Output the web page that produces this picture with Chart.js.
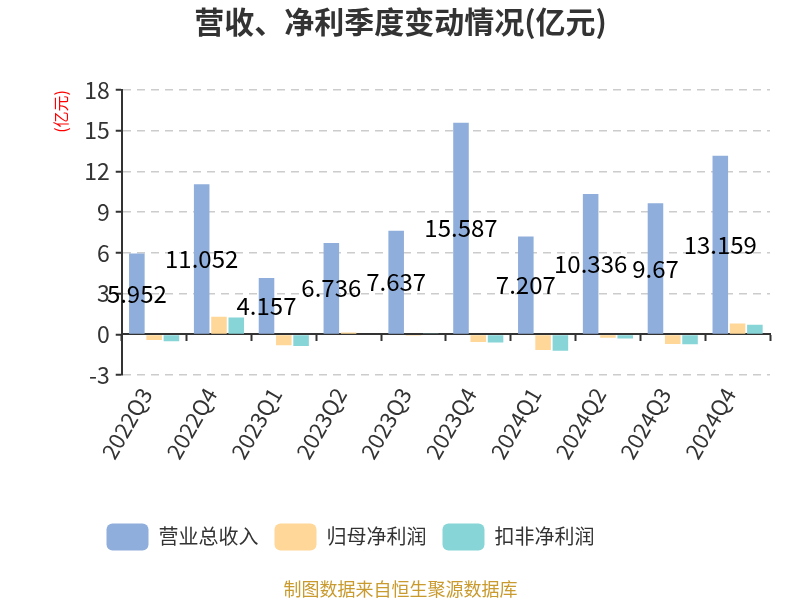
<!DOCTYPE html>
<html>
<head>
<meta charset="utf-8">
<script src="https://cdn.jsdelivr.net/npm/chart.js@4"></script>
<style>
  html, body { margin: 0; padding: 0; background: #fff; }
</style>
</head>
<body>
<canvas id="quarterChart" width="800" height="600"></canvas>
<script>
const categories = ['2022Q3', '2022Q4', '2023Q1', '2023Q2', '2023Q3', '2023Q4', '2024Q1', '2024Q2', '2024Q3', '2024Q4'];
const revenue = [5.952, 11.052, 4.157, 6.736, 7.637, 15.587, 7.207, 10.336, 9.67, 13.159];
const netProfit = [-0.4, 1.3, -0.8, 0.15, -0.1, -0.55, -1.15, -0.25, -0.7, 0.8];
const deductedProfit = [-0.5, 1.25, -0.85, 0.05, 0.03, -0.6, -1.2, -0.3, -0.72, 0.72];
const seriesNames = ['营业总收入', '归母净利润', '扣非净利润'];
const yMin = -3;
const yMax = 18;
const yStep = 3;

const FONT = '"Noto Sans CJK SC", "Noto Sans", sans-serif';
const TITLE_TEXT = '营收、净利季度变动情况(亿元)';
const FOOTER_TEXT = '制图数据来自恒生聚源数据库';

// draws the revenue value in the middle of each revenue bar
const barValueLabels = {
    id: 'barValueLabels',
    afterDatasetsDraw(chart) {
        const ctx = chart.ctx;
        const meta = chart.getDatasetMeta(0);
        ctx.save();
        ctx.font = '24px ' + FONT;
        ctx.fillStyle = '#000';
        ctx.textAlign = 'center';
        ctx.textBaseline = 'middle';
        meta.data.forEach((bar, i) => {
            const y = (bar.y + bar.base) / 2;
            ctx.fillText(String(revenue[i]), bar.x, y);
        });
        ctx.restore();
    }
};

// title and footer are centred on the canvas, legend sits left of centre
const boxShift = {
    id: 'boxShift',
    afterLayout(chart) {
        chart.boxes.forEach(box => {
            let dx = 0;
            if (box === chart.legend) dx = -60;
            else if (box.options && (box.options.text === TITLE_TEXT || box.options.text === FOOTER_TEXT)) dx = -10;
            box.left += dx;
            box.right += dx;
        });
    }
};

const ctx = document.getElementById('quarterChart').getContext('2d');
const quarterChart = new Chart(ctx, {
    type: 'bar',
    data: {
        labels: categories,
        datasets: [
            { label: seriesNames[0], data: revenue, backgroundColor: '#8FAEDB' },
            { label: seriesNames[1], data: netProfit, backgroundColor: '#FFD899' },
            { label: seriesNames[2], data: deductedProfit, backgroundColor: '#88D5D8' }
        ]
    },
    options: {
        responsive: false,
        animation: false,
        layout: {
            padding: { left: 51, right: 30, top: 0, bottom: 0 }
        },
        plugins: {
            title: {
                display: true,
                text: TITLE_TEXT,
                color: '#333',
                font: { family: FONT, size: 30, weight: 'bold' },
                padding: { top: 4, bottom: 50 }
            },
            subtitle: {
                display: true,
                position: 'bottom',
                text: FOOTER_TEXT,
                color: '#C99A2E',
                font: { family: FONT, size: 18 },
                padding: { top: 18, bottom: 0 }
            },
            legend: {
                position: 'bottom',
                labels: {
                    boxWidth: 42,
                    boxHeight: 27,
                    useBorderRadius: true,
                    borderRadius: 6,
                    padding: 16,
                    color: '#333',
                    font: { family: FONT, size: 20 }
                }
            },
            tooltip: { enabled: false }
        },
        scales: {
            x: {
                position: { y: 0 },
                offset: true,
                ticks: { display: false },
                grid: {
                    offset: true,
                    drawOnChartArea: false,
                    drawTicks: true,
                    tickLength: 6,
                    tickColor: '#333',
                    tickWidth: 2
                },
                border: { color: '#333', width: 2 }
            },
            x2: {
                type: 'category',
                labels: categories,
                position: 'bottom',
                offset: true,
                grid: { display: false },
                border: { display: false },
                ticks: {
                    color: '#333',
                    font: { family: FONT, size: 22 },
                    maxRotation: 60,
                    minRotation: 60,
                    padding: 0,
                    labelOffset: -8
                },
                afterFit: scale => { scale.height += 44; }
            },
            y: {
                min: yMin,
                max: yMax,
                ticks: {
                    stepSize: yStep,
                    color: '#333',
                    padding: 6,
                    font: { family: FONT, size: 23 }
                },
                grid: {
                    color: c => c.tick && c.tick.value === 0 ? 'rgba(0,0,0,0)' : '#ccc',
                    lineWidth: 1.5,
                    tickLength: 6,
                    tickColor: '#333',
                    tickWidth: 2,
                    tickBorderDash: []
                },
                border: { color: '#333', width: 2, dash: [8, 6] },
                title: {
                    display: true,
                    text: '(亿元)',
                    align: 'end',
                    color: '#f00',
                    font: { family: FONT, size: 16 },
                    padding: { top: 0, bottom: 8 }
                }
            }
        }
    },
    plugins: [barValueLabels, boxShift]
});
</script>
</body>
</html>
